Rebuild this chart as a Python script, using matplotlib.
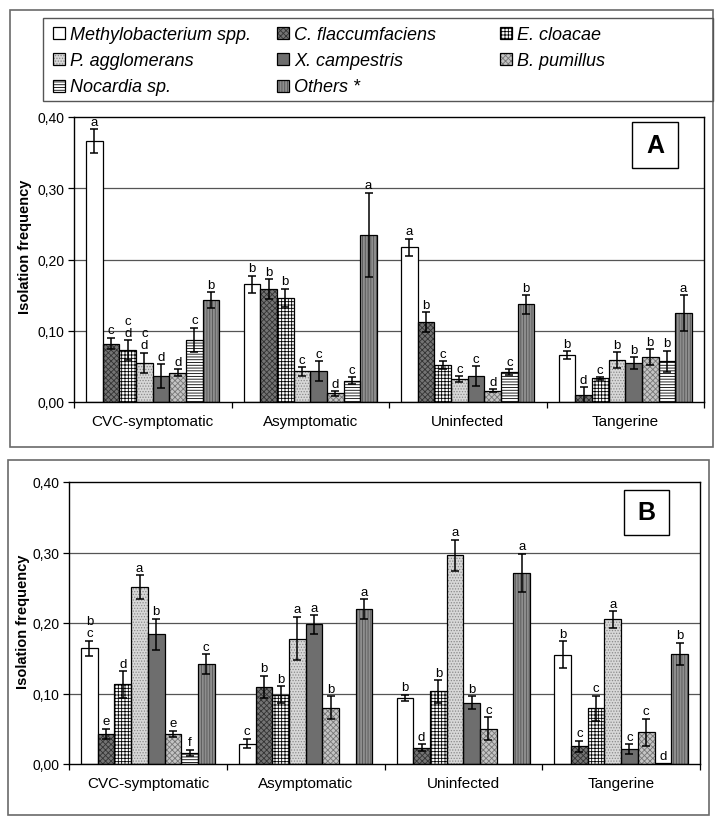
import matplotlib
matplotlib.use("Agg")
import matplotlib.pyplot as plt
from matplotlib.patches import Rectangle
import numpy as np

plt.rcParams['font.family'] = ['Liberation Sans', 'DejaVu Sans']
plt.rcParams['hatch.linewidth'] = 0.6

# ---------------- data ----------------
categories = ["CVC-symptomatic", "Asymptomatic", "Uninfected", "Tangerine"]
series = ["Methylobacterium spp.", "C. flaccumfaciens", "E. cloacae",
          "P. agglomerans", "X. campestris", "B. pumillus",
          "Nocardia sp.", "Others *"]
yticks = [0.0, 0.1, 0.2, 0.3, 0.4]
ytick_labels = ["0,00", "0,10", "0,20", "0,30", "0,40"]

# Panel A: values[series][category]
a_vals = [
    [0.366, 0.165, 0.217, 0.066],
    [0.082, 0.158, 0.112, 0.010],
    [0.073, 0.146, 0.052, 0.033],
    [0.055, 0.043, 0.032, 0.059],
    [0.036, 0.043, 0.036, 0.055],
    [0.041, 0.012, 0.016, 0.063],
    [0.087, 0.030, 0.042, 0.057],
    [0.143, 0.235, 0.137, 0.125],
]
a_errs = [
    [0.017, 0.012, 0.012, 0.005],
    [0.008, 0.014, 0.014, 0.011],
    [0.014, 0.013, 0.005, 0.002],
    [0.014, 0.006, 0.004, 0.011],
    [0.017, 0.014, 0.014, 0.008],
    [0.005, 0.003, 0.002, 0.011],
    [0.017, 0.005, 0.004, 0.015],
    [0.011, 0.059, 0.013, 0.025],
]
a_letters = [
    ["a", "b", "a", "b"],
    ["c", "b", "b", "d"],
    ["c\nd", "b", "c", "c"],
    ["c\nd", "c", "c", "b"],
    ["d", "c", "c", "b"],
    ["d", "d", "d", "b"],
    ["c", "c", "c", "b"],
    ["b", "a", "b", "a"],
]

# Panel B
b_vals = [
    [0.164, 0.029, 0.094, 0.155],
    [0.043, 0.109, 0.023, 0.025],
    [0.113, 0.098, 0.103, 0.079],
    [0.251, 0.178, 0.296, 0.205],
    [0.184, 0.198, 0.087, 0.021],
    [0.043, 0.080, 0.050, 0.045],
    [0.016, 0.0, 0.0, 0.001],
    [0.142, 0.220, 0.271, 0.156],
]
b_errs = [
    [0.011, 0.007, 0.004, 0.019],
    [0.007, 0.016, 0.005, 0.008],
    [0.019, 0.012, 0.016, 0.018],
    [0.017, 0.031, 0.022, 0.012],
    [0.022, 0.013, 0.009, 0.007],
    [0.004, 0.016, 0.016, 0.019],
    [0.004, 0.0, 0.0, 0.0],
    [0.014, 0.014, 0.027, 0.016],
]
b_letters = [
    ["b\nc", "c", "b", "b"],
    ["e", "b", "d", "c"],
    ["d", "b", "b", "c"],
    ["a", "a", "a", "a"],
    ["b", "a", "b", "c"],
    ["e", "b", "c", "c"],
    ["f", "", "", "d"],
    ["c", "a", "a", "b"],
]

# ---------------- styles ----------------
styles = [
    dict(face="white", hatch=None, hc="black"),
    dict(face="#747474", hatch="xxxxxx", hc="#333333"),
    dict(face="white", hatch="+++++", hc="black"),
    dict(face="#d8d8d8", hatch="......", hc="#8a8a8a"),
    dict(face="#6e6e6e", hatch=None, hc="#6e6e6e"),
    dict(face="#c4c4c4", hatch="xxxxxx", hc="#777777"),
    dict(face="white", hatch="------", hc="black"),
    dict(face="#8e8e8e", hatch="||||||", hc="#555555"),
]

W, H = 718, 828
fig = plt.figure(figsize=(W / 100, H / 100), dpi=100)


def fx(px):
    return px / W


def fy(py):
    return 1 - py / H


# outer frames
fig.patches.append(Rectangle((fx(10), fy(448)), fx(713) - fx(10), fy(11) - fy(448),
                             transform=fig.transFigure, fill=False,
                             edgecolor="#6a6a6a", lw=1.2))
fig.patches.append(Rectangle((fx(8), fy(816)), fx(709) - fx(8), fy(461) - fy(816),
                             transform=fig.transFigure, fill=False,
                             edgecolor="#6a6a6a", lw=1.2))
# legend frame
fig.patches.append(Rectangle((fx(43), fy(102)), fx(713) - fx(43), fy(19) - fy(102),
                             transform=fig.transFigure, fill=False,
                             edgecolor="#555555", lw=1.0))

# legend entries
col_sq = [53, 277, 500]
col_tx = [70, 294, 517]
row_base = [39.5, 66, 92.5]
sq = 12
for i, name in enumerate(series):
    r, c = divmod(i, 3)
    st = styles[i]
    x0 = fx(col_sq[c])
    y0 = fy(row_base[r])
    wdt = fx(col_sq[c] + sq) - x0
    hgt = fy(row_base[r] - sq) - y0
    fig.patches.append(Rectangle((x0, y0), wdt, hgt, transform=fig.transFigure,
                                 facecolor=st["face"], hatch=st["hatch"],
                                 edgecolor=st["hc"], lw=0))
    fig.patches.append(Rectangle((x0, y0), wdt, hgt, transform=fig.transFigure,
                                 fill=False, edgecolor="black", lw=0.9))
    fig.text(col_tx[c] / W, y0, name, fontsize=13, style="italic",
             ha="left", va="baseline")


def draw_panel(ax, vals, errs, letters, tag, tagbox, ylab_xy):
    n = len(series)
    x = np.arange(len(categories))
    bw = 0.1058
    for i in range(n):
        st = styles[i]
        pos = x + (i - (n - 1) / 2) * bw
        v = np.array(vals[i])
        e = np.array(errs[i])
        ax.bar(pos, v, bw, facecolor=st["face"], hatch=st["hatch"],
               edgecolor=st["hc"], linewidth=0, zorder=2)
        ax.bar(pos, v, bw, fill=False, edgecolor="black", linewidth=0.9, zorder=3)
        m = e > 0
        ax.errorbar(pos[m], v[m], yerr=e[m], fmt="none", ecolor="black",
                    elinewidth=1.1, capsize=3.2, capthick=1.1, zorder=4)
        for j in range(len(categories)):
            if letters[i][j]:
                ax.text(pos[j], v[j] + e[j] + 0.002, letters[i][j],
                        ha="center", va="bottom", fontsize=9.5,
                        linespacing=1.0, zorder=5)
    ax.set_xlim(-0.5, len(categories) - 0.5)
    ax.set_ylim(0, 0.4)
    ax.set_yticks(yticks)
    ax.set_yticklabels(ytick_labels, fontsize=10)
    ax.set_xticks(x)
    ax.set_xticklabels(categories, fontsize=11)
    ax.set_xticks(np.arange(-0.5, len(categories)), minor=True)
    ax.tick_params(axis="x", which="major", length=0, pad=9)
    ax.tick_params(axis="x", which="minor", length=4, direction="out", width=0.9)
    ax.tick_params(axis="y", length=4, direction="out", width=0.9, pad=3)
    for s in ax.spines.values():
        s.set_linewidth(1.0)
        s.set_color("black")
    for g in yticks[1:-1]:
        ax.axhline(g, color="#555555", lw=0.9, zorder=1)
    ax.set_ylabel("Isolation frequency", fontsize=10.5, fontweight="bold")
    ax.yaxis.set_label_coords(ylab_xy[0], ylab_xy[1])
    (bx0, by0, bx1, by1) = tagbox
    ax.add_patch(Rectangle((bx0, by0), bx1 - bx0, by1 - by0, transform=ax.transAxes,
                           facecolor="white", edgecolor="black", lw=1.0, zorder=6))
    ax.text((bx0 + bx1) / 2, (by0 + by1) / 2, tag, transform=ax.transAxes,
            ha="center", va="center", fontsize=18, fontweight="bold", zorder=7)


axA = fig.add_axes([fx(74), fy(403), fx(704) - fx(74), fy(118) - fy(403)])
axB = fig.add_axes([fx(69), fy(765), fx(700) - fx(69), fy(483) - fy(765)])

draw_panel(axA, a_vals, a_errs, a_letters, "A",
           (0.886, 0.821, 0.959, 0.982), (-0.066, 0.549))
draw_panel(axB, b_vals, b_errs, b_letters, "B",
           (0.880, 0.812, 0.951, 0.972), (-0.062, 0.507))

fig.savefig("out.png", dpi=100)
